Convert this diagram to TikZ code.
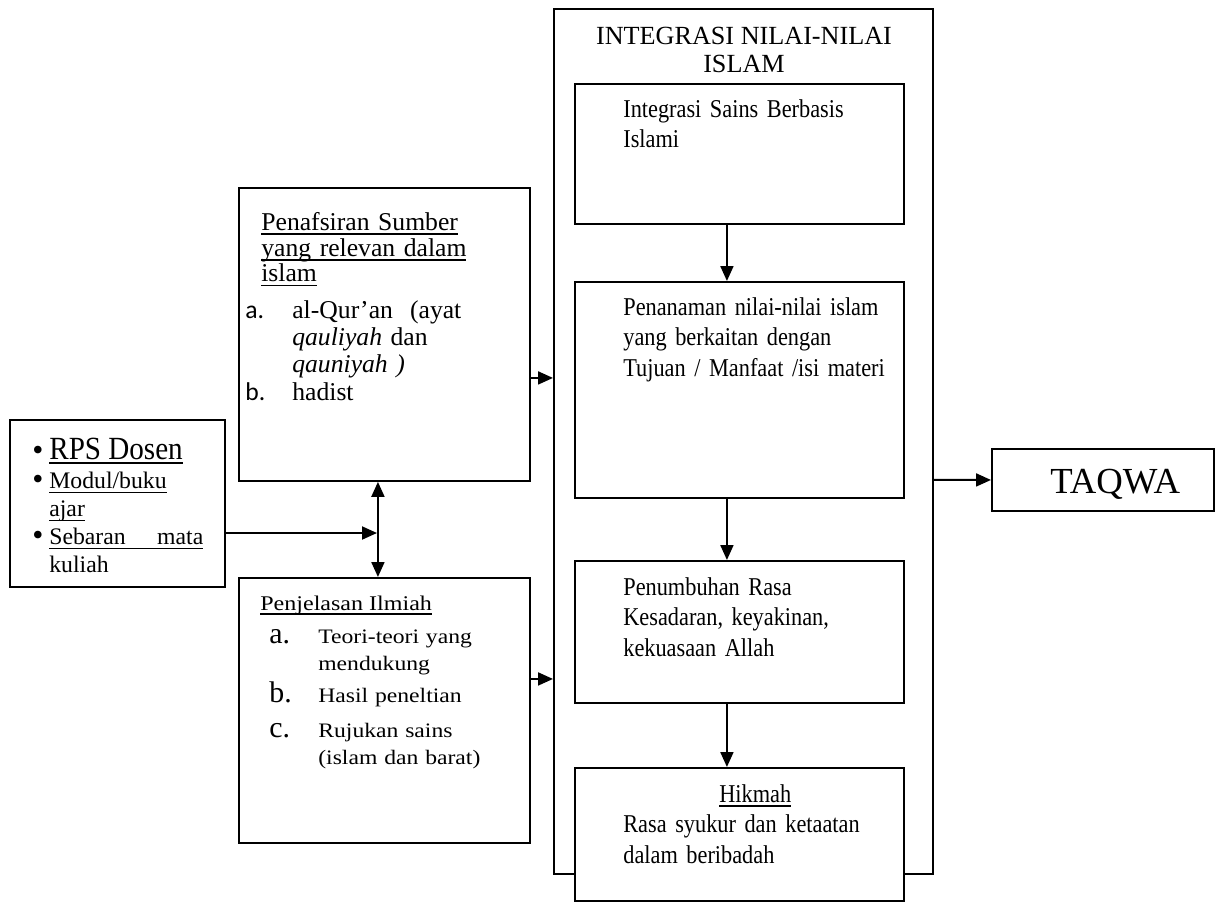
\documentclass[tikz,border=0pt]{standalone}
\usepackage{fontspec}
\setmainfont{Liberation Serif}
\setsansfont{Carlito}
\newfontfamily\tallserif{Liberation Serif}[FakeStretch=0.87]
\newfontfamily\headserif{Liberation Serif}[FakeStretch=0.9]
\newfontfamily\wideserif{Liberation Serif}[FakeStretch=1.15]
\usetikzlibrary{calc}
\usetikzlibrary{arrows.meta}
\usetikzlibrary{positioning}

\tikzset{
  box/.style={draw, line width=1.1pt, fill=white, inner sep=0pt, anchor=north west},
  txt/.style={anchor=north west, inner sep=0pt, align=left, text width=5.6cm},
  arr/.style={line width=1.1pt, -{Triangle[length=0.3cm, width=0.26cm]}},
  dblarr/.style={line width=1.1pt, {Triangle[length=0.3cm, width=0.26cm]}-{Triangle[length=0.3cm, width=0.26cm]}},
}
\newcommand{\stepfont}{\tallserif\fontsize{14.6}{17.6}\selectfont}
\newcommand{\itemlbl}[1]{\makebox[0.98cm][l]{\rmfamily\fontsize{17}{15.3}\selectfont #1}}
\newcommand{\bigbullet}{\makebox[0.34cm][l]{\rmfamily\fontsize{18}{15}\selectfont\smash{\raisebox{-0.6pt}{\textbullet}}}}
\newsavebox{\ulbox}
\newcommand{\uln}[1]{\leavevmode\sbox{\ulbox}{#1}\rlap{\rule[-2.6pt]{\wd\ulbox}{0.9pt}}\usebox{\ulbox}}

\begin{document}
\begin{tikzpicture}[x=0.02cm, y=-0.02cm]
            \useasboundingbox (0,0) rectangle (1221,904);
            % Outer frame
            \node[box, minimum width=7.58cm, minimum height=17.30cm] (integ) at (553,8) {};
            \node[anchor=north, inner sep=0pt, align=center, font=\fontsize{14.9}{15.9}\selectfont]
                 (integTitle) at (744,25) {\strut INTEGRASI NILAI-NILAI\\ISLAM};
            % Steps inside the frame
            \node[box, minimum width=6.58cm, minimum height=2.80cm] (sains)  at (574,83)  {};
            \node[txt, font=\stepfont] (sainsText)  at (623,95)  {\strut Integrasi Sains Berbasis\\Islami};
            \node[box, minimum width=6.58cm, minimum height=4.32cm] (nilai)  at (574,281) {};
            \node[txt, font=\stepfont] (nilaiText)  at (623,293) {\strut Penanaman nilai-nilai islam\\yang berkaitan dengan\\Tujuan / Manfaat /isi materi};
            \node[box, minimum width=6.58cm, minimum height=2.84cm] (rasa)   at (574,560) {};
            \node[txt, font=\stepfont] (rasaText)   at (623,573) {\strut Penumbuhan Rasa\\Kesadaran, keyakinan,\\kekuasaan Allah};
            \node[box, minimum width=6.58cm, minimum height=2.66cm] (hikmah) at (574,767) {};
            \node[txt, font=\stepfont] (hikmahText) at (623,780) {\strut\hspace*{1.92cm}\uln{Hikmah}\\Rasa syukur dan ketaatan\\dalam beribadah};
            % Result
            \node[box, minimum width=4.44cm, minimum height=1.24cm] (taqwa) at (991,448) {};
            \node[anchor=base west, inner sep=0pt, font=\fontsize{20.9}{25}\selectfont] (taqwaText) at (1050,493) {TAQWA};
            % Sources
            \node[box, minimum width=5.82cm, minimum height=5.86cm] (tafsir) at (238,187) {};
            \node[txt, font=\fontsize{14.6}{14.6}\selectfont] (tafsirHead) at (261,212)
                 {\strut\uln{Penafsiran Sumber}\\\uln{yang relevan dalam}\\\uln{islam}};
            \node[txt, font=\fontsize{14.6}{15.5}\selectfont] (tafsirList) at (245,299)
                 {\strut\makebox[0.94cm][l]{\sffamily a.}al-Qur’an\ \ (ayat\\
                  \hspace*{0.94cm}\textit{qauliyah} dan\\
                  \hspace*{0.94cm}\textit{qauniyah )}\\
                  \makebox[0.94cm][l]{\sffamily b.}hadist};
            \node[box, minimum width=5.82cm, minimum height=5.30cm] (ilmiah) at (238,577) {};
            \node[anchor=base west, inner sep=0pt, font=\wideserif\fontsize{11.9}{15}\selectfont] (ilmiahHead) at (260,610) {\uln{Penjelasan Ilmiah}};
            \node[txt, font=\wideserif\fontsize{11.7}{15.3}\selectfont] (ilmiahList) at (269,624)
                 {\strut\itemlbl{a.}Teori-teori yang\\
                  \hspace*{0.98cm}mendukung\\[0.12cm]
                  \itemlbl{b.}Hasil peneltian\\[0.16cm]
                  \itemlbl{c.}Rujukan sains\\
                  \hspace*{0.98cm}(islam dan barat)};
            % Teaching material
            \node[box, minimum width=4.30cm, minimum height=3.34cm] (rps) at (9,419) {};
            \node[anchor=base west, inner sep=0pt, font=\headserif\fontsize{18.4}{20}\selectfont] (rpsHead) at (32,459)
                 {\bigbullet\uln{RPS Dosen}};
            \node[txt, font=\fontsize{13.5}{15.9}\selectfont] (rpsList) at (32,469)
                 {\strut\bigbullet\uln{Modul/buku}\\
                  \hspace*{0.34cm}\uln{ajar}\\
                  \bigbullet\uln{\makebox[3.08cm][l]{Sebaran\hfill mata}}\\
                  \hspace*{0.34cm}kuliah};
            % Connectors
            \draw[arr] ([xshift=-0.25cm]sains.south) -- ([xshift=-0.25cm]nilai.north);
            \draw[arr] ([xshift=-0.25cm]nilai.south) -- ([xshift=-0.25cm]rasa.north);
            \draw[arr] ([xshift=-0.25cm]rasa.south)  -- ([xshift=-0.25cm]hikmah.north);
            \draw[arr] ([yshift=-0.77cm]integ.east)  -- (taqwa.west);
            \draw[arr] ([yshift=-0.87cm]tafsir.east) -- ([yshift=-0.87cm]tafsir.east -| integ.west);
            \draw[arr] ([yshift=0.63cm]ilmiah.east)  -- ([yshift=0.63cm]ilmiah.east -| integ.west);
            \draw[dblarr] ([xshift=-0.13cm]tafsir.south) -- ([xshift=-0.13cm]ilmiah.north);
            \coordinate (meet) at (377,533);
            \draw[arr] (rps.east |- meet) -- (meet);
        \end{tikzpicture}
\end{document}
